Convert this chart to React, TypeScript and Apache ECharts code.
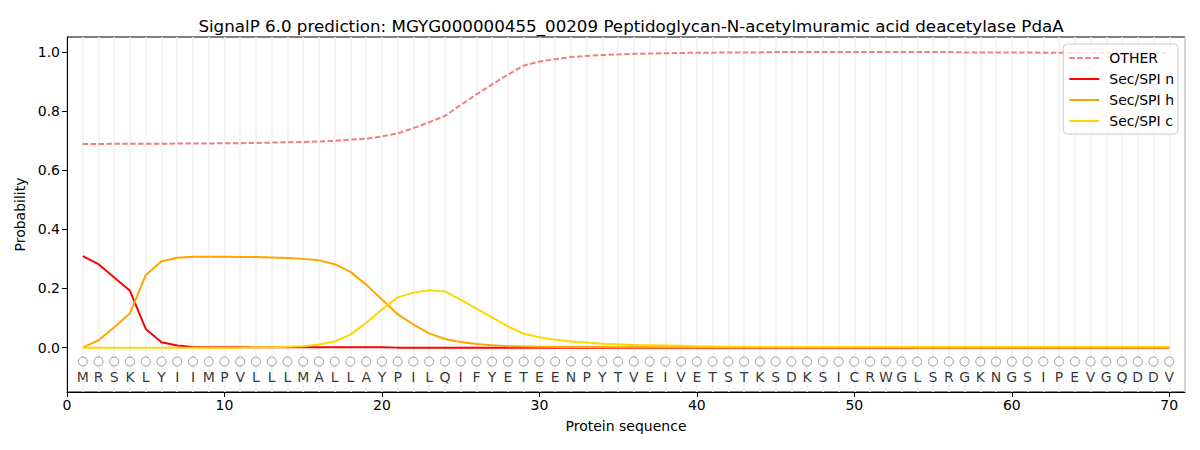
import React, { useEffect, useRef } from "react";
import * as echarts from "echarts";

const TITLE =
  "SignalP 6.0 prediction: MGYG000000455_00209 Peptidoglycan-N-acetylmuramic acid deacetylase PdaA";

const sequence = "MRSKLYIIMPVLLLMALLAYPILQIFYETEENPYTVEIVETSTKSDKSICRWGLSRGKNGSIPEVGQDDV".split("");

const otherProb = [
  0.688, 0.688, 0.689, 0.689, 0.689, 0.689, 0.690, 0.690, 0.690, 0.691,
  0.691, 0.692, 0.693, 0.694, 0.695, 0.697, 0.699, 0.703, 0.706, 0.714,
  0.724, 0.742, 0.762, 0.783, 0.820, 0.856, 0.890, 0.923, 0.953, 0.967,
  0.975, 0.982, 0.986, 0.989, 0.991, 0.993, 0.994, 0.995, 0.996, 0.997,
  0.997, 0.998, 0.998, 0.998, 0.999, 0.999, 0.999, 0.999, 0.999, 0.999,
  0.999, 0.999, 0.999, 0.999, 0.999, 0.999, 0.998, 0.998, 0.998, 0.998,
  0.998, 0.997, 0.997, 0.997, 0.997, 0.997, 0.996, 0.996, 0.996, 0.996,
];

const secN = [
  0.309, 0.282, 0.237, 0.192, 0.063, 0.018, 0.007, 0.002, 0.001, 0.001,
  0.001, 0.001, 0.001, 0.001, 0.001, 0.001, 0.001, 0.001, 0.001, 0.001,
  0.0, 0.0, 0.0, 0.0, 0.0, 0.0, 0.0, 0.0, 0.0, 0.0,
  0.0, 0.0, 0.0, 0.0, 0.0, 0.0, 0.0, 0.0, 0.0, 0.0,
  0.0, 0.0, 0.0, 0.0, 0.0, 0.0, 0.0, 0.0, 0.0, 0.0,
  0.0, 0.0, 0.0, 0.0, 0.0, 0.0, 0.0, 0.0, 0.0, 0.0,
  0.0, 0.0, 0.0, 0.0, 0.0, 0.0, 0.0, 0.0, 0.0, 0.0,
];

const secH = [
  0.0, 0.025, 0.069, 0.116, 0.245, 0.292, 0.304, 0.307, 0.307, 0.307,
  0.306, 0.306, 0.305, 0.303, 0.300, 0.295, 0.282, 0.256, 0.213, 0.163,
  0.113, 0.078, 0.048, 0.029, 0.019, 0.012, 0.008, 0.005, 0.004, 0.003,
  0.002, 0.002, 0.002, 0.002, 0.001, 0.001, 0.001, 0.001, 0.001, 0.001,
  0.001, 0.001, 0.001, 0.001, 0.001, 0.001, 0.001, 0.001, 0.001, 0.001,
  0.001, 0.001, 0.001, 0.001, 0.001, 0.001, 0.001, 0.001, 0.001, 0.001,
  0.001, 0.001, 0.001, 0.001, 0.001, 0.001, 0.001, 0.001, 0.001, 0.001,
];

const secC = [
  0.0, 0.0, 0.0, 0.0, 0.0, 0.0, 0.0, 0.0, 0.0, 0.0,
  0.0, 0.001, 0.001, 0.003, 0.005, 0.011, 0.021, 0.044, 0.084, 0.129,
  0.170, 0.186, 0.194, 0.190, 0.162, 0.132, 0.102, 0.072, 0.047, 0.035,
  0.027, 0.021, 0.017, 0.013, 0.011, 0.009, 0.008, 0.007, 0.006, 0.005,
  0.004, 0.003, 0.003, 0.002, 0.002, 0.002, 0.002, 0.002, 0.002, 0.002,
  0.002, 0.002, 0.002, 0.001, 0.001, 0.001, 0.001, 0.001, 0.001, 0.001,
  0.001, 0.001, 0.001, 0.001, 0.001, 0.001, 0.001, 0.001, 0.001, 0.001,
];

const xTickValues = [0, 10, 20, 30, 40, 50, 60, 70];
const yTickValues = [0, 0.2, 0.4, 0.6, 0.8, 1.0];

const FONT = "DejaVu Sans";

const SOLID_ICON = "path://M0,0h30v2h-30z";
const DASHED_ICON =
  "path://M0,0h5.5v2h-5.5z M8,0h5.5v2h-5.5z M16,0h5.5v2h-5.5z M24,0h6v2h-6z";

const toPairs = (arr: number[]) => arr.map((v, i) => [i + 1, v]);

export default function App() {
  const ref = useRef<HTMLDivElement>(null);

  useEffect(() => {
    if (!ref.current) return;
    const chart = echarts.init(ref.current, null, { renderer: "svg" });
    const lineSeries = (name: string, data: number[], color: string, dashed = false) => ({
      name,
      type: "line",
      data: toPairs(data),
      showSymbol: false,
      symbol: "none",
      xAxisIndex: 0,
      yAxisIndex: 0,
      lineStyle: { color, width: 2, type: dashed ? [5.5, 2.4] : "solid" },
      itemStyle: { color },
      z: 3,
    });
    chart.setOption({
      animation: false,
      backgroundColor: "#ffffff",
      textStyle: { fontFamily: FONT },
      title: {
        text: TITLE,
        left: 626,
        textAlign: "center",
        top: 12,
        textStyle: { fontFamily: FONT, fontSize: 16.7, fontWeight: "normal", color: "#000" },
      },
      grid: {
        left: 67,
        right: 15,
        top: 37,
        bottom: 58,
        show: true,
        borderColor: "#000",
        borderWidth: 1,
        backgroundColor: "transparent",
        outerBoundsMode: "none",
      },
      legend: {
        orient: "vertical",
        right: 22,
        top: 44,
        padding: [7, 4, 6, 6],
        itemGap: 7,
        itemWidth: 30,
        itemHeight: 14,
        backgroundColor: "rgba(255,255,255,0.8)",
        borderColor: "#cccccc",
        borderWidth: 1,
        borderRadius: 4,
        textStyle: { fontFamily: FONT, fontSize: 14, color: "#000", padding: [0, 0, 0, 5] },
        data: [
          { name: "OTHER", icon: DASHED_ICON },
          { name: "Sec/SPI n", icon: SOLID_ICON },
          { name: "Sec/SPI h", icon: SOLID_ICON },
          { name: "Sec/SPI c", icon: SOLID_ICON },
        ],
      },
      xAxis: [
        {
          type: "value",
          min: 0,
          max: 71,
          name: "Protein sequence",
          nameLocation: "middle",
          nameGap: 27,
          nameTextStyle: { fontFamily: FONT, fontSize: 14, color: "#000" },
          axisLine: { show: true, onZero: false, lineStyle: { color: "#000" } },
          axisTick: { show: true, length: 5, customValues: xTickValues, lineStyle: { color: "#000" } },
          axisLabel: {
            customValues: xTickValues,
            fontFamily: FONT,
            fontSize: 14,
            color: "#000",
            margin: 6,
          },
          splitLine: { show: false },
        },
        {
          type: "value",
          min: 0,
          max: 71,
          interval: 1,
          position: "bottom",
          axisLine: { show: false },
          axisTick: { show: false },
          axisLabel: { show: false },
          splitLine: { show: true, lineStyle: { color: "#f0f0f0", width: 1.5 } },
        },
      ],
      yAxis: {
        type: "value",
        min: -0.15,
        max: 1.05,
        name: "Probability",
        nameLocation: "middle",
        nameGap: 38,
        nameRotate: 90,
        nameTextStyle: { fontFamily: FONT, fontSize: 14, color: "#000" },
        axisLine: { show: true, onZero: false, lineStyle: { color: "#000" } },
        axisTick: { show: true, length: 5, customValues: yTickValues, lineStyle: { color: "#000" } },
        axisLabel: {
          customValues: yTickValues,
          formatter: (v: number) => v.toFixed(1),
          fontFamily: FONT,
          fontSize: 14,
          color: "#000",
          margin: 7,
        },
        splitLine: { show: false },
      },
      series: [
        lineSeries("OTHER", otherProb, "#f08080", true),
        lineSeries("Sec/SPI n", secN, "#ff0000"),
        lineSeries("Sec/SPI h", secH, "#ffa500"),
        lineSeries("Sec/SPI c", secC, "#ffd700"),
        {
          name: "circles",
          type: "scatter",
          data: sequence.map((_, i) => [i + 1, -0.047]),
          symbol: "circle",
          symbolSize: 9,
          itemStyle: { color: "#ffffff", borderColor: "#808080", borderWidth: 1 },
          silent: true,
          z: 2,
        },
        {
          name: "letters",
          type: "scatter",
          data: sequence.map((_, i) => [i + 1, -0.1]),
          symbolSize: 0,
          silent: true,
          label: {
            show: true,
            position: "inside",
            formatter: (p: any) => sequence[p.dataIndex],
            fontFamily: FONT,
            fontSize: 14,
            color: "#000",
          },
          z: 2,
        },
      ],
    });
    return () => chart.dispose();
  }, []);

  return (
    <div
      ref={ref}
      style={{ position: "fixed", left: 0, top: 0, width: 1200, height: 450 }}
    />
  );
}
